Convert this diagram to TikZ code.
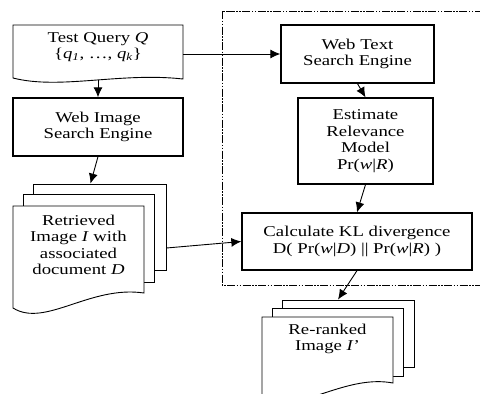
\documentclass[tikz,border=0pt]{standalone}
\usepackage{fontspec}
\setmainfont[FakeStretch=1.25]{Liberation Serif}
\usepackage{tikz}
\usetikzlibrary{arrows.meta}

\begin{document}
\begin{tikzpicture}[x=1pt, y=-1pt,
    box/.style={draw, line width=1.3pt, align=center, inner sep=0pt},
    page/.style={draw, line width=0.9pt, fill=white, inner sep=0pt},
    txt/.style={align=center, inner sep=0pt},
    flow/.style={-{Latex[length=10pt,width=9pt]}, line width=0.9pt},
    frame/.style={line width=1pt, dash pattern=on 8pt off 1.5pt on 1.5pt off 1.5pt on 1.5pt off 1.5pt},
    every node/.style={font=\fontsize{15}{16.5}\selectfont}]
    \useasboundingbox (0,0) rectangle (480,394);
    \clip (0,0) rectangle (480,394);

    % dash-dot frame round the text side
    \draw[frame] (222,11) rectangle (520,285);

    % query document
    \draw[line width=0.9pt, fill=white] (13,25) -- (183,25) -- (183,79)
        .. controls (120,72) and (60,90) .. (13,78) -- cycle;
    \node[txt, minimum width=170pt, minimum height=66pt] (query) at (98,47)
        {Test Query \textit{Q}\\ \{\textit{q}\textsubscript{\textit{1}}, \ldots, \textit{q}\textsubscript{\textit{k}}\}};

    % boxes
    \node[box, minimum width=170pt, minimum height=58pt] (webimage) at (98,127)
        {Web Image\\Search Engine};
    \node[box, minimum width=153pt, minimum height=58pt] (webtext) at (357.5,54)
        {Web Text\\Search Engine};
    \node[box, minimum width=135pt, minimum height=86pt] (estimate) at (365.5,141)
        {Estimate\\Relevance\\Model\\Pr(\textit{w}|\textit{R})};
    \node[box, minimum width=230pt, minimum height=57pt] (kl) at (357,241.5)
        {Calculate KL divergence\\D( Pr(\textit{w}|\textit{D}) || Pr(\textit{w}|\textit{R}) )};

    % retrieved pages
    \node[page, minimum width=133pt, minimum height=86pt] (retrieved3) at (99.5,227) {};
    \node[page, minimum width=131pt, minimum height=88pt] (retrieved2) at (88.5,238) {};
    \draw[line width=0.9pt, fill=white] (13,206) -- (144,206) -- (144,293)
        .. controls (90,285) and (45,328) .. (13,308) -- cycle;
    \node[txt, minimum width=131pt] (retrieved) at (78.5,245)
        {Retrieved\\Image \textit{I} with\\associated\\document \textit{D}};

    % re-ranked pages
    \node[page, minimum width=132pt, minimum height=67pt] (reranked3) at (348,333.5) {};
    \node[page, minimum width=131pt, minimum height=68pt] (reranked2) at (337.5,342) {};
    \draw[line width=0.9pt, fill=white] (262,317) -- (393,317) -- (393,383)
        .. controls (350,375) and (310,405) .. (262,408) -- cycle;
    \node[txt, minimum width=131pt] (reranked) at (327.5,339)
        {Re-ranked\\Image \textit{I}’};

    % arrows
    \draw[flow] (query.south) -- (webimage.north);
    \draw[flow] (query.east |- webtext.west) -- (webtext.west);
    \draw[flow] (webimage.south) -- ([xshift=-9pt]retrieved3.north);
    \draw[flow] (webtext.south) -- (estimate.north);
    \draw[flow] (estimate.south) -- (kl.north);
    \draw[flow] ([yshift=-21pt]retrieved3.east) -- (kl.west);
    \draw[flow] (kl.south) -- ([xshift=-10pt]reranked3.north);
\end{tikzpicture}
\end{document}
